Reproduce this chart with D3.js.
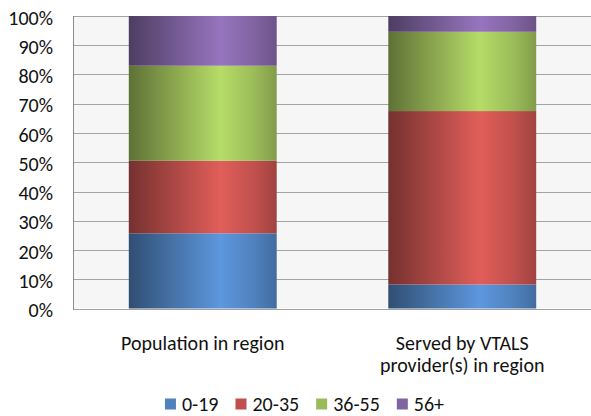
<!DOCTYPE html>
<html><head><meta charset="utf-8">
<script src="https://cdn.jsdelivr.net/npm/d3@7"></script>
<style>
html,body{margin:0;padding:0;background:#fff;}
svg{display:block;font-family:Carlito,Lato,"Liberation Sans",sans-serif;}
</style></head>
<body>
<svg id="c" width="591" height="416"></svg>
<script>
const categories = [["Population in region"], ["Served by VTALS", "provider(s) in region"]];
const catKeys = ["pop", "served"];
const seriesNames = ["0-19", "20-35", "36-55", "56+"];
const s0_19 = [25.7, 8.2];
const s20_35 = [24.8, 59.3];
const s36_55 = [32.5, 27.1];
const s56p = [17.0, 5.4];
const seriesColors = ["#4f81bd", "#c0504d", "#9bbb59", "#8064a2"];
const yTicks = [0, 10, 20, 30, 40, 50, 60, 70, 80, 90, 100];

const values = [s0_19, s20_35, s36_55, s56p];
const rows = catKeys.map((k, i) => {
  const r = {key: k};
  seriesNames.forEach((s, j) => r[s] = values[j][i]);
  return r;
});
const stacked = d3.stack().keys(seriesNames)(rows);

const FS = 20;
const svg = d3.select("#c");
const m = {left: 73, right: 591, top: 16, bottom: 308.5};
const x = d3.scaleBand().domain(catKeys).range([m.left, m.right + 1]).paddingInner(0.43).paddingOuter(0.215);
const y = d3.scaleLinear().domain([0, 100]).range([m.bottom, m.top]);

// gradients
const defs = svg.append("defs");
seriesColors.forEach((c, i) => {
  const base = d3.rgb(c);
  const g = defs.append("linearGradient").attr("id", "g" + i).attr("x1", "0").attr("x2", "1").attr("y1", "0").attr("y2", "0");
  g.append("stop").attr("offset", "0%").attr("stop-color", base.darker(1.4));
  g.append("stop").attr("offset", "25%").attr("stop-color", base.darker(0.5));
  g.append("stop").attr("offset", "62%").attr("stop-color", base.brighter(0.45));
  g.append("stop").attr("offset", "85%").attr("stop-color", base);
  g.append("stop").attr("offset", "100%").attr("stop-color", base.darker(0.5));
});

// plot background
svg.append("rect").attr("x", m.left).attr("y", m.top).attr("width", m.right - m.left).attr("height", m.bottom - m.top).attr("fill", "#f6f6f7");

// gridlines
svg.append("g").selectAll("line").data(yTicks).join("line")
  .attr("x1", m.left).attr("x2", m.right)
  .attr("y1", d => Math.round(y(d)) + 0.5).attr("y2", d => Math.round(y(d)) + 0.5)
  .attr("stroke", "#a3a3a3").attr("stroke-width", 1);

// y axis line
svg.append("line").attr("x1", m.left + 0.5).attr("x2", m.left + 0.5).attr("y1", m.top).attr("y2", Math.round(m.bottom) + 1)
  .attr("stroke", "#8c8c8c");

// y axis labels
const yAxis = d3.axisLeft(y).tickValues(yTicks).tickFormat(d => d + "%").tickSize(0).tickPadding(20);
const ya = svg.append("g").attr("transform", `translate(${m.left},0)`).call(yAxis);
ya.select(".domain").remove();
ya.selectAll("text").attr("font-size", FS).attr("fill", "#111").attr("font-family", "Carlito,Lato,sans-serif").attr("dy", "0.4em");

// bars
svg.append("g").selectAll("g").data(stacked).join("g")
  .attr("fill", (d, i) => `url(#g${i})`)
  .selectAll("rect").data(d => d).join("rect")
  .attr("x", d => x(d.data.key))
  .attr("width", x.bandwidth())
  .attr("y", d => y(d[1]))
  .attr("height", d => y(d[0]) - y(d[1]));

// category labels
const xl = svg.append("g");
categories.forEach((lines, i) => {
  const cx = x(catKeys[i]) + x.bandwidth() / 2;
  const t = xl.append("text").attr("text-anchor", "middle").attr("font-size", FS).attr("fill", "#111");
  lines.forEach((ln, j) => t.append("tspan").attr("x", cx).attr("y", 350 + j * 22).text(ln));
});

// legend
const lg = svg.append("g");
let lx = 0;
seriesNames.forEach((s, i) => {
  const it = lg.append("g");
  it.append("rect").attr("x", 0).attr("y", -5.5).attr("width", 11).attr("height", 11).attr("fill", seriesColors[i]);
  const t = it.append("text").attr("x", 17).attr("y", 0).attr("dy", "0.36em").attr("font-size", FS).attr("fill", "#111").text(s);
  const w = 17 + t.node().getComputedTextLength();
  it.attr("transform", `translate(${lx},0)`);
  lx += w + 17;
});
const totalW = lx - 17;
lg.attr("transform", `translate(${(162 + 447) / 2 - totalW / 2},404)`);
</script>
</body></html>
